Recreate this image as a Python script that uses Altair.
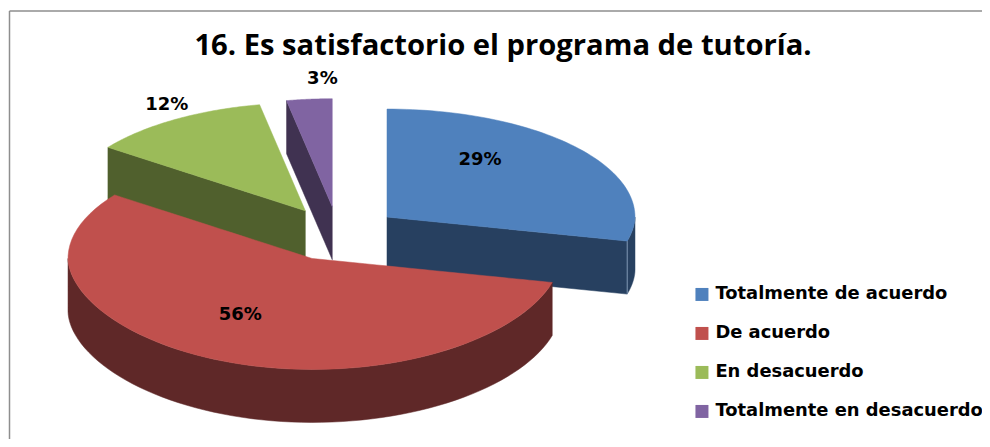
import math
import altair as alt
import pandas as pd

TITLE = "16. Es satisfactorio el programa de tutoría."
categories = ["Totalmente de acuerdo", "De acuerdo", "En desacuerdo", "Totalmente en desacuerdo"]
shares = [29, 56, 12, 3]
labels = ["29%", "56%", "12%", "3%"]
top_colors = ["#4F81BD", "#C0504D", "#9BBB59", "#8064A2"]
side_colors = ["#274060", "#5F2828", "#50602D", "#403251"]

# pie geometry (3D projection with slight perspective, in picture pixels)
W, H = 974, 431
CX, CY = 338, 233.6
RX_RIGHT, RX_LEFT, RY_BACK, RY_FRONT = 248, 244, 108, 111
FRONT_POWER = 1.1
DEPTH = 53
EXPLODE = 0.25
label_fx = [0.475, 0.69, 1.06, 0.43]
label_fy = [0.86, 0.58, 1.16, 1.19]

spans = []
acc = 0
total = sum(shares)
for s in shares:
    spans.append((acc / total * 2 * math.pi, (acc + s) / total * 2 * math.pi))
    acc += s


def proj(t):
    """Offset of the rim point at angle t (clockwise from the top) from a slice's apex."""
    s, c = math.sin(t), math.cos(t)
    dx = s * (RX_RIGHT if s > 0 else RX_LEFT)
    dy = -c * RY_BACK if c > 0 else RY_FRONT * abs(c) ** FRONT_POWER
    return dx, dy


def centre(i):
    a, b = spans[i]
    dx, dy = proj((a + b) / 2)
    return CX + EXPLODE * dx, CY + EXPLODE * dy


def rim(i, a, b, drop=0.0, n=70):
    cx, cy = centre(i)
    pts = []
    for k in range(n + 1):
        dx, dy = proj(a + (b - a) * k / n)
        pts.append((cx + dx, cy + dy + drop))
    return pts


def to_area(poly, name, order):
    """Turn a polygon into x / y / y2 rows, one vertical span per vertex x."""
    xs = sorted({round(p[0], 3) for p in poly})
    rows = []
    m = len(poly)
    for x in xs:
        ys = []
        for k in range(m):
            (x0, y0), (x1, y1) = poly[k], poly[(k + 1) % m]
            lo, hi = min(x0, x1), max(x0, x1)
            if lo - 1e-3 <= x <= hi + 1e-3:
                if abs(x1 - x0) < 1e-6:
                    ys += [y0, y1]
                else:
                    t = min(1, max(0, (x - x0) / (x1 - x0)))
                    ys.append(y0 + t * (y1 - y0))
        rows.append({"x": x, "y": min(ys), "y2": max(ys), "shape": name, "order": order})
    return rows


def top_face(i):
    a, b = spans[i]
    return [centre(i)] + rim(i, a, b)


def cut_wall(i, angle):
    c = centre(i)
    e = rim(i, angle, angle, n=1)[0]
    return [c, e, (e[0], e[1] + DEPTH), (c[0], c[1] + DEPTH)]


def front_rim(i, a, b):
    return rim(i, a, b) + rim(i, a, b, DEPTH)[::-1]


side_polys = []
side_polys.append((2, cut_wall(2, spans[2][0])))
side_polys.append((3, cut_wall(3, spans[3][0])))
a0, b0 = math.pi / 2, spans[0][1]
side_polys.append((0, cut_wall(0, b0)))
side_polys.append((0, front_rim(0, a0, b0)))

x_sc = alt.Scale(domain=[8, 8 + W], nice=False, zero=False)
y_sc = alt.Scale(domain=[8, 8 + H], nice=False, zero=False, reverse=True)
X = alt.X("x:Q", scale=x_sc, axis=None)
Y = alt.Y("y:Q", scale=y_sc, axis=None)
Y2 = alt.Y2("y2:Q")


def side_layer(poly, colour, name):
    df = pd.DataFrame(to_area(poly, name, 0))
    return alt.Chart(df).mark_area(color=colour, stroke=colour, strokeWidth=0.5, opacity=1).encode(x=X, y=Y, y2=Y2)


color_scale = alt.Scale(domain=categories, range=top_colors)
legend = alt.Legend(
    title=None, orient="none", legendX=685, legendY=277.5, symbolType="square", symbolSize=169,
    symbolStrokeWidth=0, labelFont="DejaVu Sans", labelFontWeight="bold", labelFontSize=17.9,
    labelColor="#000000", labelOffset=4.5, rowPadding=20, labelLimit=320, symbolOpacity=1,
)


def top_layer(i):
    df = pd.DataFrame(to_area(top_face(i), categories[i], 1))
    df["cat"] = categories[i]
    return alt.Chart(df).mark_area(opacity=1, stroke=top_colors[i], strokeWidth=0.5).encode(
        x=X, y=Y, y2=Y2,
        color=alt.Color("cat:N", scale=color_scale, legend=legend, sort=categories),
    )


layers = []
frame_col = "#8E8E8E"
layers.append(alt.Chart(pd.DataFrame({"a": [0]})).mark_rule(color=frame_col, strokeWidth=1.5).encode(
    x=alt.value(1.5), y=alt.value(3), y2=alt.value(H)))
layers.append(alt.Chart(pd.DataFrame({"a": [0]})).mark_rule(color=frame_col, strokeWidth=1.5).encode(
    y=alt.value(3), x=alt.value(1.5), x2=alt.value(W)))

for i, poly in side_polys:
    layers.append(side_layer(poly, side_colors[i], categories[i]))

# light seam at the outer corner of the blue wall
e = rim(0, spans[0][1], spans[0][1], n=1)[0]
layers.append(alt.Chart(pd.DataFrame({"x": [e[0]], "y": [e[1]], "y2": [e[1] + DEPTH]})).mark_rule(
    color="#7F95B2", strokeWidth=1).encode(x=X, y=Y, y2=Y2))

for i in [0, 2, 3]:
    layers.append(top_layer(i))
a1, b1 = spans[1][0], 1.5 * math.pi
layers.append(side_layer(front_rim(1, a1, b1), side_colors[1], categories[1]))
layers.append(top_layer(1))

lab_rows = []
for i, t in enumerate(labels):
    a, b = spans[i]
    m = (a + b) / 2
    cx, cy = centre(i)
    lx = cx + label_fx[i] * math.sin(m) * (RX_RIGHT if math.sin(m) > 0 else RX_LEFT)
    ly = cy - label_fy[i] * math.cos(m) * RY_BACK
    lab_rows.append({"x": lx, "y": ly, "t": t})
layers.append(alt.Chart(pd.DataFrame(lab_rows)).mark_text(
    font="DejaVu Sans", fontWeight="bold", fontSize=18, color="#000000", align="center", baseline="middle"
).encode(x=X, y=Y, text="t:N"))

chart = alt.layer(*layers).properties(
    width=W, height=H, padding=0,
    autosize=alt.AutoSizeParams(type="none"),
    background="#FFFFFF",
    title=alt.TitleParams(TITLE, font="Open Sans", fontWeight="bold", fontSize=29.2, color="#000000",
                          anchor="middle", dx=8, offset=-82, orient="top", baseline="bottom"),
).configure_view(stroke=None)

chart.save("out.html", embed_options={"renderer": "svg", "actions": False})
